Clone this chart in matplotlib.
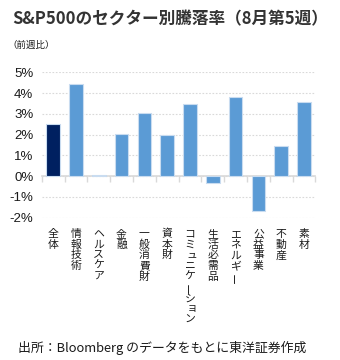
"""
S&P500 sector returns for the 5th week of August, as a bar chart
with vertical Japanese category labels.
"""

import matplotlib

matplotlib.use("Agg")
import matplotlib.pyplot as plt

plt.rcParams["font.family"] = ["Noto Sans CJK JP", "DejaVu Sans"]

# Sector names (x axis) and weekly change in percent
sectors = [
    "全体", "情報技術", "ヘルスケア", "金融", "一般消費財", "資本財",
    "コミュニケーション", "生活必需品", "エネルギー", "公益事業", "不動産", "素材",
]
changes = [2.5, 4.42, 0.06, 2.02, 3.03, 2.0, 3.46, -0.32, 3.8, -1.7, 1.44, 3.57]

y_ticks = [-2, -1, 0, 1, 2, 3, 4, 5]
y_labels = [f"{v}%" for v in y_ticks]

title = "S&P500のセクター別騰落率（8月第5週）"
subtitle = "（前週比）"
source = "出所：Bloomberg のデータをもとに東洋証券作成"

NAVY = "#002060"
BLUE = "#5b9bd5"

fig = plt.figure(figsize=(3.4, 3.6), dpi=100)
ax = fig.add_axes([0.1226, 0.3953, 0.8053, 0.4039])

# Bars, first one (total) in navy
colors = [NAVY] + [BLUE] * (len(sectors) - 1)
x = range(len(sectors))
ax.bar(x, changes, width=0.6, color=colors, edgecolor="#c9dcf0", linewidth=0.8,
       zorder=5)

ax.set_xlim(-0.5, len(sectors) - 0.5)
ax.set_ylim(-2, 5)

# Dotted gridlines
ax.set_yticks(y_ticks)
ax.set_yticklabels(y_labels, family="Liberation Sans", fontsize=9.5,
                   color="#1a1a1a")
ax.yaxis.grid(True, linestyle=(0, (1.5, 1.5)), color="#d9d9d9", linewidth=0.8)
ax.tick_params(axis="y", length=0, pad=6)

# Zero line with tick marks between categories
for side in ["top", "right", "left"]:
    ax.spines[side].set_visible(False)
ax.spines["bottom"].set_position(("data", 0))
ax.spines["bottom"].set_color("#d9d9d9")
ax.spines["bottom"].set_linewidth(1.2)
ax.spines["bottom"].set_zorder(4)
ax.set_xticks([i - 0.5 for i in range(len(sectors) + 1)])
ax.set_xticklabels([])
ax.tick_params(axis="x", length=4, width=1, color="#d9d9d9", direction="out")

# Vertical labels, one character at a time
small_kana = "ャュョッァィゥェォ"
trans = ax.get_xaxis_transform()
for i, name in enumerate(sectors):
    for k, ch in enumerate(name):
        dx, dy = 0, 0
        if ch in small_kana:
            dx, dy = 1.2, 0.8
        ax.annotate(ch, xy=(i, 0), xycoords=trans,
                    xytext=(dx, -8 - k * 7.75 + dy), textcoords="offset points",
                    ha="center", va="top", fontsize=7.8, color="#1a1a1a",
                    rotation=90 if ch == "ー" else 0)

fig.text(0.035, 0.945, title, fontsize=12, fontweight="bold", color="#333333",
         va="center", ha="left")
fig.text(0.022, 0.874, subtitle, fontsize=6.8, color="#1a1a1a",
         va="center", ha="left")
fig.text(0.053, 0.033, source, fontsize=9.3, color="#1a1a1a",
         va="center", ha="left")

fig.savefig("out.png", dpi=100)
